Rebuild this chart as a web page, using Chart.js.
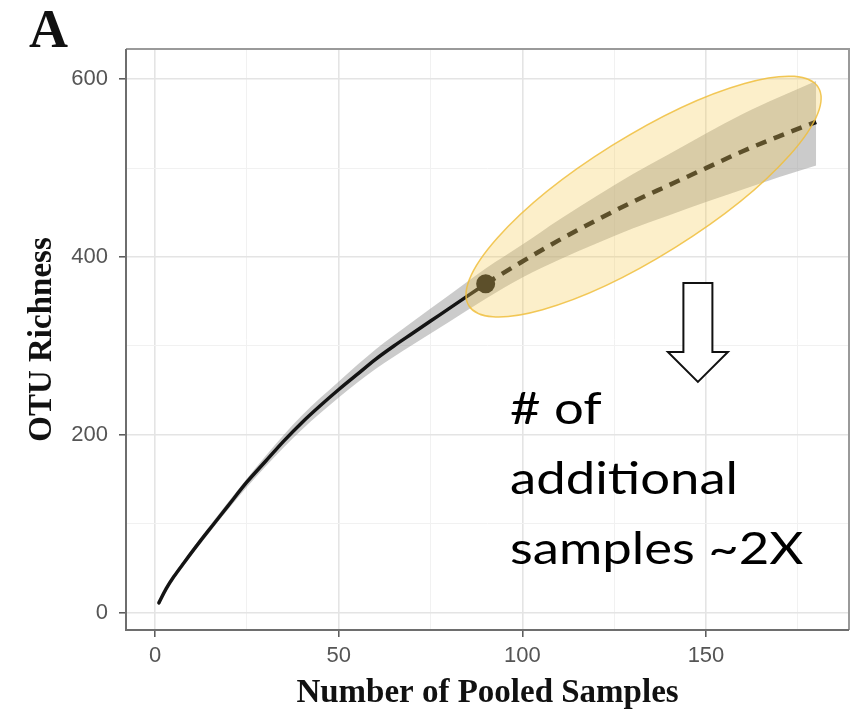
<!DOCTYPE html>
<html>
<head>
<meta charset="utf-8">
<script src="https://cdn.jsdelivr.net/npm/chart.js@4.4.1/dist/chart.umd.min.js"></script>
<style>
  html, body { margin: 0; padding: 0; background: #ffffff; }
  #wrap { position: relative; width: 853px; height: 717px; overflow: hidden; }
  #c { position: absolute; left: 0; top: 0; }
  .panel-label { position: absolute; left: 29px; top: 2px; font-family: "Liberation Serif", "Times New Roman", serif; font-weight: bold; font-size: 54px; line-height: 54px; color: #111; }
  .note { position: absolute; left: 510px; top: 372px; font-family: Lato, "Open Sans", sans-serif; font-size: 45px; line-height: 70px; color: #000; white-space: nowrap; transform: scaleX(1.17); transform-origin: left top; }
</style>
</head>
<body>
<div id="wrap">
  <canvas id="c" width="853" height="717"></canvas>
  <div class="panel-label">A</div>
  <div class="note"># of<br>additional<br>samples ~2X</div>
</div>
<script>
// ---- data ----
const observedX = [1, 3, 5, 8, 12, 16, 20, 25, 30, 35, 40, 45, 50, 55, 60, 65, 70, 75, 80, 85, 90];
const observedY = [11, 27, 40, 57, 79, 100, 121, 147, 170, 193, 214, 233, 251, 268, 285, 300, 314, 328, 342, 356, 370];

const extrapX = [90, 100, 110, 120, 130, 140, 150, 160, 170, 180];
const extrapY = [370, 395, 419, 441, 462, 481, 500, 519, 536, 552];

const bandX    = [1, 5, 10, 20, 30, 40, 50, 60, 70, 80, 90, 100, 110, 120, 130, 140, 150, 160, 170, 180];
const bandLow  = [10, 38, 65, 117, 164, 206, 242, 274, 301, 327, 353, 377, 397, 415, 432, 447, 462, 476, 490, 503];
const bandHigh = [12, 42, 71, 125, 176, 222, 260, 296, 327, 357, 387, 414, 442, 468, 493, 516, 539, 561, 580, 598];

const refPointX = [90];
const refPointY = [370];

const xTickValues = [0, 25, 50, 75, 100, 125, 150, 175];
const xTickLabels = [0, 50, 100, 150];
const yTickValues = [0, 100, 200, 300, 400, 500, 600];
const yTickLabels = [0, 200, 400, 600];

// annotation anchors (data units)
const highlightCenter = { x: 133, y: 468 };
const arrowTip = { x: 147.8, y: 259.5 };

const toXY = (xs, ys) => xs.map((x, i) => ({ x: x, y: ys[i] }));

const panelBorder = {
  id: 'panelBorder',
  afterDatasetsDraw(chart) {
    const { ctx, chartArea: a } = chart;
    ctx.save();
    ctx.lineWidth = 2;
    ctx.strokeStyle = '#9a9a9a';
    ctx.beginPath();
    ctx.moveTo(a.left, a.top); ctx.lineTo(a.right, a.top); ctx.lineTo(a.right, a.bottom);
    ctx.stroke();
    ctx.strokeStyle = '#6e6e6e';
    ctx.beginPath();
    ctx.moveTo(a.left, a.top); ctx.lineTo(a.left, a.bottom); ctx.lineTo(a.right, a.bottom);
    ctx.stroke();
    ctx.restore();
  }
};

const highlight = {
  id: 'highlight',
  afterDatasetsDraw(chart) {
    const { ctx, scales } = chart;
    const cx = scales.x.getPixelForValue(highlightCenter.x);
    const cy = scales.y.getPixelForValue(highlightCenter.y);
    ctx.save();
    ctx.beginPath();
    ctx.ellipse(cx, cy, 206, 60, -32 * Math.PI / 180, 0, 2 * Math.PI);
    ctx.fillStyle = 'rgba(245, 205, 90, 0.32)';
    ctx.fill();
    ctx.lineWidth = 1.5;
    ctx.strokeStyle = 'rgba(240, 190, 60, 0.85)';
    ctx.stroke();

    // hollow down arrow
    const tx = scales.x.getPixelForValue(arrowTip.x);
    const ty = scales.y.getPixelForValue(arrowTip.y);
    ctx.beginPath();
    ctx.moveTo(tx - 14.5, ty - 99);
    ctx.lineTo(tx + 14.5, ty - 99);
    ctx.lineTo(tx + 14.5, ty - 30);
    ctx.lineTo(tx + 30, ty - 30);
    ctx.lineTo(tx, ty);
    ctx.lineTo(tx - 30, ty - 30);
    ctx.lineTo(tx - 14.5, ty - 30);
    ctx.closePath();
    ctx.fillStyle = '#ffffff';
    ctx.fill();
    ctx.lineWidth = 2;
    ctx.lineJoin = 'miter';
    ctx.strokeStyle = '#111';
    ctx.stroke();
    ctx.restore();
  }
};

const majorGrid = '#e4e4e4';
const minorGrid = '#f1f1f1';

new Chart(document.getElementById('c'), {
  type: 'line',
  data: {
    datasets: [
      {
        data: toXY(bandX, bandHigh), order: 5,
        borderWidth: 0, pointRadius: 0,
        backgroundColor: 'rgba(145,145,145,0.47)',
        fill: '+1', cubicInterpolationMode: 'monotone'
      },
      {
        data: toXY(bandX, bandLow), order: 6,
        borderWidth: 0, pointRadius: 0, fill: false,
        cubicInterpolationMode: 'monotone'
      },
      {
        data: toXY(observedX, observedY), order: 2,
        borderColor: '#141414', borderWidth: 3.5, pointRadius: 0,
        fill: false, cubicInterpolationMode: 'monotone', borderCapStyle: 'round'
      },
      {
        data: toXY(extrapX, extrapY), order: 1,
        borderColor: '#141414', borderWidth: 4.5, pointRadius: 0,
        borderDash: [11, 8], borderCapStyle: 'butt',
        fill: false, cubicInterpolationMode: 'monotone'
      },
      {
        data: toXY(refPointX, refPointY), order: 0,
        showLine: false, pointRadius: 9.5, pointBorderWidth: 0,
        pointBackgroundColor: '#141414', backgroundColor: '#141414'
      }
    ]
  },
  options: {
    responsive: false,
    animation: false,
    layout: { autoPadding: false, padding: { left: 0, top: 49, right: 4, bottom: 0 } },
    plugins: { legend: { display: false }, tooltip: { enabled: false } },
    scales: {
      x: {
        type: 'linear', min: -7.95, max: 188.95,
        afterBuildTicks: s => { s.ticks = xTickValues.map(v => ({ value: v })); },
        afterFit: s => { s.height = 87; s.paddingLeft = 0; s.paddingRight = 0; },
        border: { display: false },
        grid: {
          color: c => (xTickLabels.includes(c.tick && c.tick.value) ? majorGrid : minorGrid),
          lineWidth: c => (xTickLabels.includes(c.tick && c.tick.value) ? 1.6 : 1),
          tickColor: c => (xTickLabels.includes(c.tick && c.tick.value) ? '#555' : 'rgba(0,0,0,0)'),
          tickLength: 7, tickWidth: 1.5
        },
        ticks: {
          autoSkip: false, maxRotation: 0, padding: 6, color: '#555',
          font: { family: 'Liberation Sans', size: 22 },
          callback: v => (xTickLabels.includes(v) ? String(v) : '')
        },
        title: {
          display: true, text: 'Number of Pooled Samples', color: '#111',
          font: { family: 'Liberation Serif', size: 33, weight: 'bold' },
          padding: { top: 0, bottom: 4 }
        }
      },
      y: {
        type: 'linear', min: -19.5, max: 634,
        afterBuildTicks: s => { s.ticks = yTickValues.map(v => ({ value: v })); },
        afterFit: s => { s.width = 126; s.paddingTop = 0; s.paddingBottom = 0; },
        border: { display: false },
        grid: {
          color: c => (yTickLabels.includes(c.tick && c.tick.value) ? majorGrid : minorGrid),
          lineWidth: c => (yTickLabels.includes(c.tick && c.tick.value) ? 1.6 : 1),
          tickColor: c => (yTickLabels.includes(c.tick && c.tick.value) ? '#555' : 'rgba(0,0,0,0)'),
          tickLength: 7, tickWidth: 1.5
        },
        ticks: {
          autoSkip: false, padding: 11, color: '#555',
          font: { family: 'Liberation Sans', size: 22 },
          callback: v => (yTickLabels.includes(v) ? String(v) : '')
        },
        title: {
          display: true, text: 'OTU Richness', color: '#111',
          font: { family: 'Liberation Serif', size: 33, weight: 'bold' },
          padding: { top: 23, bottom: 0 }
        }
      }
    }
  },
  plugins: [panelBorder, highlight]
});
</script>
</body>
</html>
